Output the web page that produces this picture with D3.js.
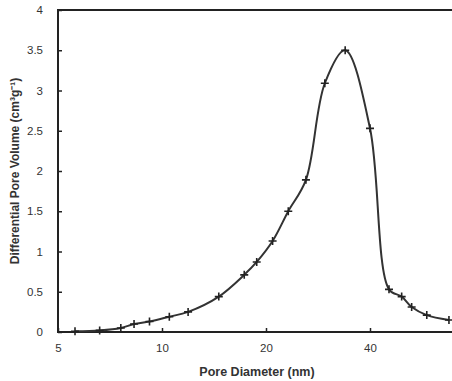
<!DOCTYPE html>
<html>
<head>
<meta charset="utf-8">
<script src="https://cdn.jsdelivr.net/npm/d3@7"></script>
<style>
  body { margin: 0; background: #fff; }
  svg text { font-family: "Liberation Sans", Arial, sans-serif; fill: #333; }
</style>
</head>
<body>
<svg id="chart" width="452" height="381"></svg>
<script>
// pore diameter (nm) and differential pore volume
var diameter = [5.6, 6.6, 7.6, 8.3, 9.2, 10.5, 11.9, 14.6, 17.3, 18.8, 20.9, 23.2, 26.1, 29.6, 33.9, 40.0, 45.4, 49.4, 52.8, 58.4, 67.7];
var volume   = [0.01, 0.02, 0.05, 0.10, 0.13, 0.19, 0.25, 0.44, 0.71, 0.87, 1.13, 1.50, 1.89, 3.09, 3.50, 2.53, 0.53, 0.44, 0.31, 0.21, 0.15];
var xTicks = [5, 10, 20, 40];
var yTicks = [0, 0.5, 1, 1.5, 2, 2.5, 3, 3.5, 4];

var margin = {top: 10, left: 58, bottom: 49};
var height = 381;

var svg = d3.select("#chart");

// log axis, base 2 -- picture is cut off on the right before the 80 tick
var x = d3.scaleLog().base(2).domain([5, 80]).range([margin.left, margin.left + 416]);
var y = d3.scaleLinear().domain([0, 4]).range([height - margin.bottom, margin.top]);

var data = diameter.map(function(d, i) { return {d: d, v: volume[i]}; });

// frame
svg.append("rect")
  .attr("x", x(5)).attr("y", y(4))
  .attr("width", x(80) - x(5)).attr("height", y(0) - y(4))
  .attr("fill", "none").attr("stroke", "#222").attr("stroke-width", 2);

var xAxis = svg.append("g")
  .attr("transform", "translate(0," + y(0) + ")")
  .call(d3.axisBottom(x).tickValues(xTicks).tickFormat(d3.format("d")).tickSizeInner(-4).tickSizeOuter(0));
xAxis.select(".domain").remove();
xAxis.selectAll("line").attr("stroke", "#222").attr("stroke-width", 1.5);
xAxis.selectAll("text").attr("y", 12).attr("dy", "0.71em").style("font-size", "11.5px").attr("fill", "#444");

var yAxis = svg.append("g")
  .attr("transform", "translate(" + x(5) + ",0)")
  .call(d3.axisLeft(y).tickValues(yTicks).tickFormat(d3.format("")).tickSizeInner(-4).tickSizeOuter(0));
yAxis.select(".domain").remove();
yAxis.selectAll("line").attr("stroke", "#222").attr("stroke-width", 1.5);
yAxis.selectAll("text").attr("x", -15).style("font-size", "11.5px").attr("fill", "#444");

var line = d3.line()
  .x(function(d) { return x(d.d); })
  .y(function(d) { return y(d.v); })
  .curve(d3.curveCatmullRom.alpha(0.5));

svg.append("path")
  .datum(data)
  .attr("d", line)
  .attr("fill", "none")
  .attr("stroke", "#333")
  .attr("stroke-width", 2);

// cross markers
svg.selectAll(".pt")
  .data(data)
  .enter().append("path")
  .attr("class", "pt")
  .attr("transform", function(d) { return "translate(" + x(d.d) + "," + y(d.v) + ")"; })
  .attr("d", "M-4,0H4M0,-4V4")
  .attr("stroke", "#222")
  .attr("stroke-width", 1.6);

svg.append("text")
  .attr("x", 257).attr("y", 376)
  .attr("text-anchor", "middle")
  .style("font-size", "12.5px").style("font-weight", "bold")
  .text("Pore Diameter (nm)");

svg.append("text")
  .attr("transform", "translate(19,171) rotate(-90)")
  .attr("text-anchor", "middle")
  .style("font-size", "12px").style("font-weight", "bold")
  .text("Differential Pore Volume (cm\u00b3g\u207b\u00b9)");
</script>
</body>
</html>
